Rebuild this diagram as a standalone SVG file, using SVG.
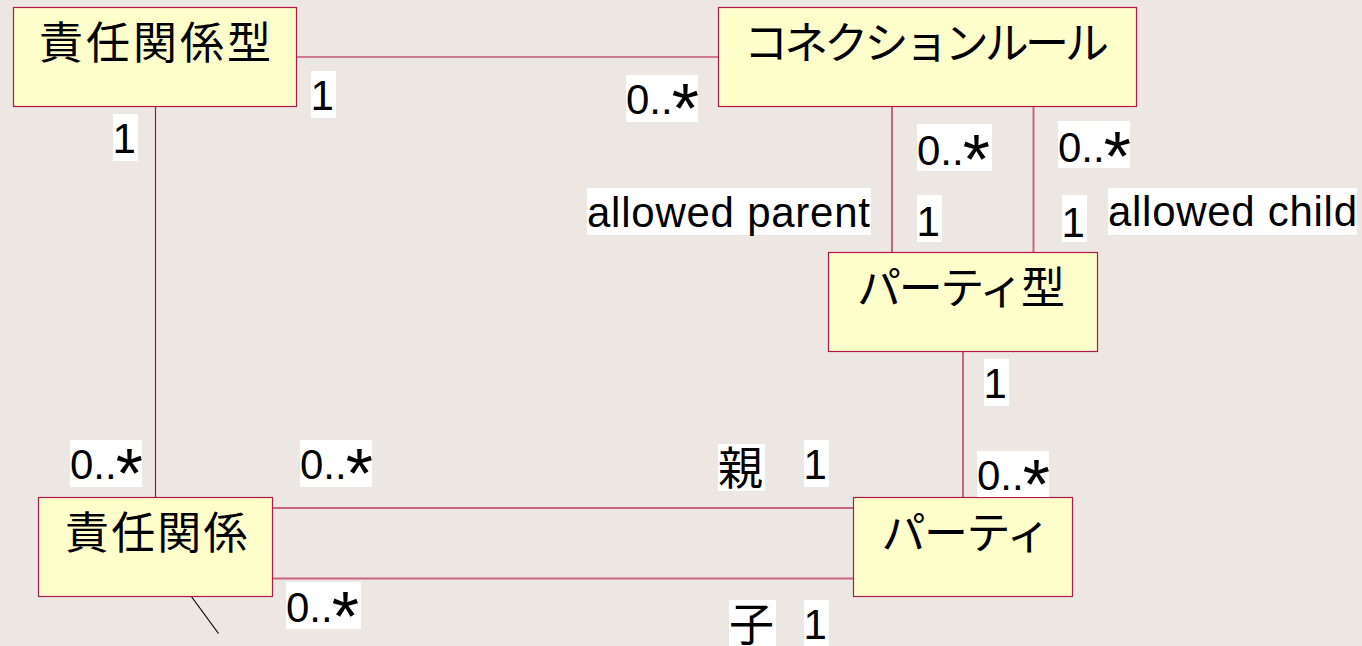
<svg xmlns="http://www.w3.org/2000/svg" width="1362" height="646" viewBox="0 0 1362 646">
<style>
.bg{fill:#ECE7E3}
.box{fill:#FFFFCC;stroke:#B4174A;stroke-width:1.2}
.t{font-family:"Noto Sans CJK JP","Liberation Sans",sans-serif;font-size:44px;fill:#000}
.dark{stroke:#A8143F;stroke-width:1.2;fill:none}
.pink{stroke:#C8647F;stroke-width:2;fill:none}
.lb{fill:#FFFFFF}
.l{font-family:"Liberation Sans","Noto Sans CJK JP",sans-serif;font-size:42px;fill:#000}
.ast{font-size:70px}
.lj{font-family:"Noto Sans CJK JP",sans-serif;font-size:45px;fill:#000}
</style>
<rect class="bg" x="0" y="0" width="1362" height="646"/>
<g id="connectors">
<line class="dark" x1="297" y1="57" x2="718" y2="57"/>
<line class="dark" x1="155.5" y1="107" x2="155.5" y2="497"/>
<line class="pink" x1="892" y1="107" x2="892" y2="252"/>
<line class="pink" x1="1033.5" y1="107" x2="1033.5" y2="252"/>
<line class="pink" x1="963" y1="352" x2="963" y2="497"/>
<line class="pink" x1="272" y1="508" x2="853" y2="508"/>
<line class="pink" x1="272" y1="578.5" x2="853" y2="578.5"/>
<line x1="191" y1="596" x2="218.5" y2="633.5" stroke="#000" stroke-width="1.2"/>
</g>
<g id="node-sekinin-kankei-gata">
<rect class="box" x="13.5" y="7.5" width="283" height="99"/>
<text class="t" x="39" y="58.6" textLength="232" lengthAdjust="spacing">責任関係型</text>
</g>
<g id="node-connection-rule">
<rect class="box" x="718.5" y="7.5" width="418" height="99"/>
<text class="t" x="744" y="58.6" textLength="365" lengthAdjust="spacing">コネクションルール</text>
</g>
<g id="node-party-gata">
<rect class="box" x="828.5" y="252.5" width="269" height="99"/>
<text class="t" x="857" y="303.6" textLength="208" lengthAdjust="spacing">パーティ型</text>
</g>
<g id="node-sekinin-kankei">
<rect class="box" x="38.5" y="497.5" width="234" height="99"/>
<text class="t" x="65" y="548.6" textLength="182.5" lengthAdjust="spacing">責任関係</text>
</g>
<g id="node-party">
<rect class="box" x="853.5" y="497.5" width="219" height="99"/>
<text class="t" x="881.5" y="548.6" textLength="169" lengthAdjust="spacing">パーティ</text>
</g>
<g id="labels">
<rect class="lb" x="311" y="71" width="25" height="47"/><text class="l" x="310.5" y="110">1</text>
<rect class="lb" x="626" y="75" width="72" height="47"/><text class="l" x="626" y="114">0..<tspan class="ast" dx="-1" dy="19">*</tspan></text>
<rect class="lb" x="113" y="114" width="25" height="47"/><text class="l" x="112.5" y="153">1</text>
<rect class="lb" x="917" y="124" width="75" height="47"/><text class="l" x="917" y="165">0..<tspan class="ast" dx="-1" dy="19">*</tspan></text>
<rect class="lb" x="1058" y="121" width="72" height="47"/><text class="l" x="1058" y="162">0..<tspan class="ast" dx="-1" dy="19">*</tspan></text>
<rect class="lb" x="587" y="188" width="284" height="47"/><text class="l" x="587" y="226.5" textLength="283" lengthAdjust="spacing">allowed parent</text>
<rect class="lb" x="917" y="195" width="25" height="47"/><text class="l" x="916.5" y="236">1</text>
<rect class="lb" x="1062" y="195" width="25" height="47"/><text class="l" x="1061.5" y="236.5">1</text>
<rect class="lb" x="1108" y="188" width="249" height="47"/><text class="l" x="1108" y="225.7" textLength="249" lengthAdjust="spacing">allowed child</text>
<rect class="lb" x="984" y="359" width="25" height="47"/><text class="l" x="983.5" y="398">1</text>
<rect class="lb" x="70" y="440" width="72" height="47"/><text class="l" x="70" y="479">0..<tspan class="ast" dx="-1" dy="19">*</tspan></text>
<rect class="lb" x="300" y="440" width="72" height="47"/><text class="l" x="300" y="479">0..<tspan class="ast" dx="-1" dy="19">*</tspan></text>
<rect class="lb" x="718" y="444" width="47" height="47"/><text class="lj" x="718" y="485">親</text>
<rect class="lb" x="804" y="440" width="25" height="47"/><text class="l" x="803.5" y="479">1</text>
<rect class="lb" x="977" y="451" width="72" height="46"/><text class="l" x="977" y="490">0..<tspan class="ast" dx="-1" dy="19">*</tspan></text>
<rect class="lb" x="286" y="582" width="75" height="47"/><text class="l" x="286" y="621.7">0..<tspan class="ast" dx="-1" dy="19">*</tspan></text>
<rect class="lb" x="729" y="600" width="47" height="46"/><text class="lj" x="729" y="641">子</text>
<rect class="lb" x="804" y="600" width="25" height="46"/><text class="l" x="803.5" y="639">1</text>
</g>
</svg>
